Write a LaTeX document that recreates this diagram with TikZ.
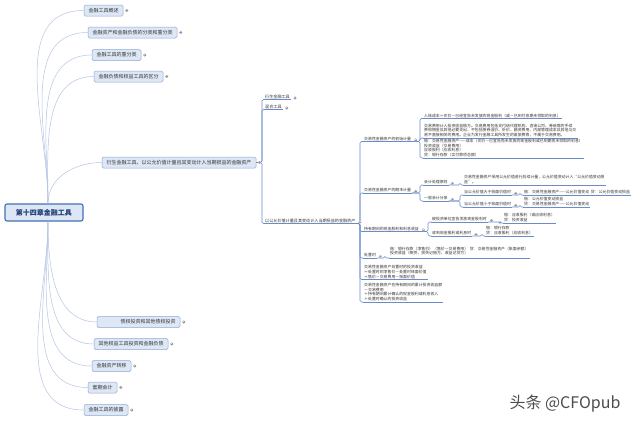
\documentclass[tikz,border=0pt]{standalone}
\usepackage{fontspec}
\setmainfont{Noto Sans CJK SC}
\usetikzlibrary{calc}
\definecolor{boxfill}{HTML}{DDE7F5}
\definecolor{boxdraw}{HTML}{8FA9D6}
\definecolor{rootfill}{HTML}{DCE6F4}
\definecolor{rootdraw}{HTML}{4470B4}
\definecolor{roottxt}{HTML}{1F3B73}
\definecolor{lconn}{HTML}{B5C6E4}
\definecolor{ulc}{HTML}{6A8CCD}
\definecolor{txt}{HTML}{333333}
\definecolor{mkgray}{HTML}{9A9A9A}
\definecolor{wmc}{HTML}{4D4D4D}
\newcommand\fsA{\fontsize{5pt}{6pt}\selectfont}
\newcommand\fsB{\fontsize{4.1pt}{5pt}\selectfont}
\newcommand\fsC{\fontsize{3.9pt}{4.7pt}\selectfont}
\newcommand\UL[4]{\node[ulnode] (#1) at (#2,#3) {#4};\draw[uline] (#1.south west) -- (#1.south east);}
\newcommand\ULb[4]{\node[ulnode,font=\fsB] (#1) at (#2,#3) {#4};\draw[uline] (#1.south west) -- (#1.south east);}
\newcommand\CN[3]{\draw[conn] (#1) -- (#1 -| #3) |- (#2.south west);}
\newcommand\MKm[1]{\coordinate (mkpt) at (#1); \draw[mkc] (mkpt) circle (1.4pt); \draw[mks] ($(mkpt)+(-0.8,0)$) -- ($(mkpt)+(0.8,0)$);}
\newcommand\MKp[1]{\MKm{#1}\draw[mks] ($(mkpt)+(0,-0.8)$) -- ($(mkpt)+(0,0.8)$);}
\tikzset{
  lbox/.style={draw=boxdraw, fill=boxfill, rounded corners=1.5pt, line width=0.5pt,
    font=\fsA, text=txt, minimum height=11pt, inner xsep=4.5pt, inner ysep=0pt},
  rootbox/.style={draw=rootdraw, fill=rootfill, rounded corners=2pt, line width=1.1pt,
    font=\fontsize{7pt}{8pt}\selectfont\bfseries, text=roottxt, minimum width=78pt, minimum height=17pt},
  lc/.style={draw=lconn, line width=0.5pt},
  ulnode/.style={anchor=south west, inner xsep=1pt, inner ysep=0.9pt, text=txt, align=left, font=\fsC},
  uline/.style={draw=ulc, line width=0.6pt},
  conn/.style={draw=ulc, line width=0.55pt, rounded corners=1.5pt},
  mkc/.style={draw=mkgray, fill=white, line width=0.3pt},
  mks/.style={draw=mkgray, line width=0.3pt},
  wm/.style={font=\fontsize{16pt}{17pt}\selectfont, text=wmc}
}
\begin{document}
\begin{tikzpicture}[x=1pt,y=-1pt]
\fill[white] (0,0) rectangle (640,421);
\useasboundingbox (0,0) rectangle (640,421);

% root and first-level nodes
\node[rootbox] (root) at (44,212.5) {第十四章金融工具};
\node[lbox, minimum width=39pt] (n1) at (103.5,10.5) {金融工具概述};
\node[lbox, minimum width=89pt] (n2) at (132.5,32.5) {金融资产和金融负债的分类和重分类};
\node[lbox, minimum width=49pt] (n3) at (116.5,55) {金融工具的重分类};
\node[lbox, minimum width=69pt] (n4) at (128.5,76.5) {金融负债和权益工具的区分};
\node[lbox, minimum width=154pt] (n5) at (179,162.5) {衍生金融工具、以公允价值计量且其变动计入当期损益的金融资产};
\node[lbox, text width=74pt, align=right] (n6) at (138.5,322) {债权投资和其他债权投资};
\node[lbox, minimum width=74pt] (n7) at (131,344) {其他权益工具投资和金融负债};
\node[lbox, minimum width=39pt] (n8) at (111.5,366) {金融资产转移};
\node[lbox, minimum width=29pt] (n9) at (102.5,387.5) {套期会计};
\node[lbox, minimum width=44pt] (n10) at (106,410) {金融工具的披露};

\foreach \n in {n1,n2,n3,n4,n5}
  \draw[lc] ([xshift=4pt]root.north) to[out=90,in=180] (\n.west);
\foreach \n in {n6,n7,n8,n9,n10}
  \draw[lc] ([xshift=4pt]root.south) to[out=-90,in=180] (\n.west);

% bus coordinates
\coordinate (busC) at (262,0);
\coordinate (busD) at (360,0);
\coordinate (busE) at (420,0);
\coordinate (busG) at (460,0);
\coordinate (busI) at (520,0);
\coordinate (busJ) at (428,0);
\coordinate (busK1) at (500,0);
\coordinate (busK2) at (482,0);
\coordinate (busL) at (385,0);

% second level
\ULb{c1}{264}{99.5}{衍生金融工具}
\ULb{c2}{264}{109.5}{混合工具}
\ULb{c3}{264}{223.5}{以公允价值计量且其变动计入当期损益的金融资产}

% third level
\UL{d1}{363}{141.5}{交易性金融资产的初始计量}
\UL{d2}{363}{193}{交易性金融资产的期末计量}
\UL{d3}{363}{231.5}{持有期间的现金股利和利息收益}
\UL{d4}{363}{258}{处置时}
\UL{d5}{363}{279.5}{交易性金融资产处置时的投资收益\\＝处置时的净售价－处置时账面价值\\＝售价－交易费用－账面价值}
\UL{d6}{363}{302}{交易性金融资产在持有期间的累计投资收益额\\－交易费用\\＋持有期间累计确认的现金股利或利息收入\\＋处置时确认的投资收益}

% initial measurement
\UL{e1}{423}{118.5}{入账成本＝买价－已经宣告未发放的现金股利（或－已到付息期未领取的利息）}
\UL{e2}{423}{138}{交易费用计入投资收益借方。交易费用包括支付给代理机构、咨询公司、券商等的手续\\费和佣金及其他必要支出，不包括债券溢价、折价、融资费用、内部管理成本及其他与交\\易不直接相关的费用。企业为发行金融工具所发生的差旅费等，不属于交易费用。}
\UL{e3}{423}{158}{借：交易性金融资产——成本（买价－已宣告而未发放的现金股利或已到期而未领取的利息）\\投资收益（交易费用）\\应收股利（应收利息）\\贷：银行存款（实付款项总额）}

% subsequent measurement
\UL{f1}{423}{185}{会计处理原则}
\UL{f2}{423}{201}{一般会计分录}
\UL{g1}{463}{185}{交易性金融资产采用公允价值进行后续计量，公允价值变动计入“公允价值变动损\\益”。}
\UL{h1}{463}{195}{当公允价值大于账面价值时}
\UL{h2}{463}{207}{当公允价值小于账面价值时}
\UL{i1}{523}{195}{借：交易性金融资产——公允价值变动\ \ 贷：公允价值变动损益}
\UL{i2}{523}{207}{借：公允价值变动损益\\贷：交易性金融资产——公允价值变动}

% dividends and interest
\UL{j1}{431}{222}{被投资单位宣告发放现金股利时}
\UL{j2}{431}{236}{收到现金股利或利息时}
\UL{k1}{503}{223}{借：应收股利（或应收利息）\\贷：投资收益}
\UL{k2}{485}{236}{借：银行存款\\贷：应收股利（应收利息）}

% disposal
\node[ulnode, inner ysep=2.5pt] (l1) at (389,258) {借：银行存款（净售价）（售价－交易费用）\ \ 贷：交易性金融资产（账面余额）\\投资收益（倒挤，损失记借方，收益记贷方）};
\draw[uline] (l1.south west) -- (l1.south east);

% connectors
\foreach \c in {c1,c2,c3} { \CN{n5.east}{\c}{busC} }
\foreach \c in {d1,d2,d3,d4,d5,d6} { \CN{c3.south east}{\c}{busD} }
\foreach \c in {e1,e2,e3} { \CN{d1.south east}{\c}{busE} }
\foreach \c in {f1,f2} { \CN{d2.south east}{\c}{busE} }
\CN{f1.south east}{g1}{busG}
\foreach \c in {h1,h2} { \CN{f2.south east}{\c}{busG} }
\CN{h1.south east}{i1}{busI}
\CN{h2.south east}{i2}{busI}
\foreach \c in {j1,j2} { \CN{d3.south east}{\c}{busJ} }
\CN{j1.south east}{k1}{busK1}
\CN{j2.south east}{k2}{busK2}
\CN{d4.south east}{l1}{busL}

% collapse markers
\MKp{[xshift=3.5pt]n1.east}
\MKp{[xshift=3.5pt]n2.east}
\MKp{[xshift=3.5pt]n3.east}
\MKp{[xshift=3.5pt]n4.east}
\MKm{[xshift=3.2pt]n5.east}
\MKp{[xshift=3.5pt]n6.east}
\MKp{[xshift=3.5pt]n7.east}
\MKp{[xshift=3.5pt]n8.east}
\MKp{[xshift=3.5pt]n9.east}
\MKp{[xshift=3.5pt]n10.east}
\MKp{[shift={(4pt,1.5pt)}]c1.south east}
\MKp{[shift={(4pt,1.5pt)}]c2.south east}
\foreach \p in {c3,d1,d2,d3,d4,f1,f2,h1,h2,j1,j2} { \MKm{[shift={(3.5pt,1.5pt)}]\p.south east} }

% watermark
\node[wm] (wm) at (565,404) {头条 @CFOpub};
\end{tikzpicture}
\end{document}
